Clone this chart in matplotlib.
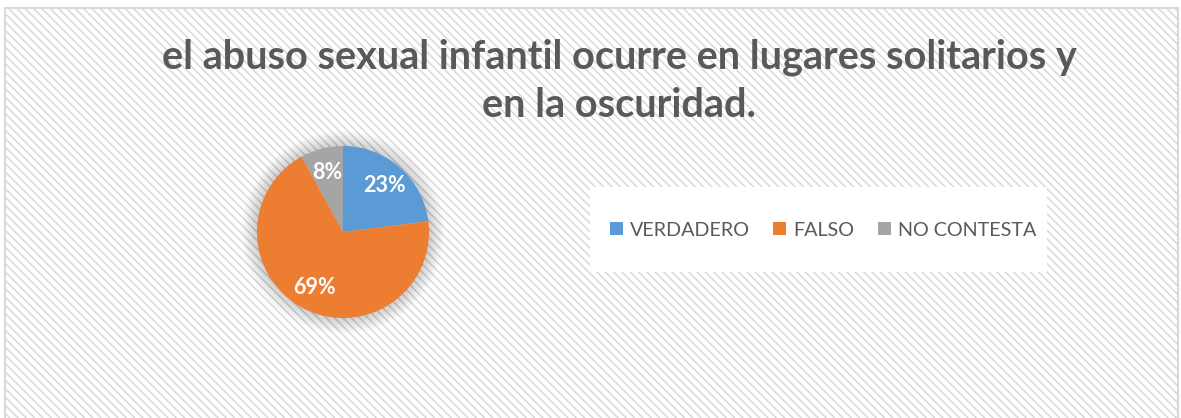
import matplotlib.pyplot as plt
from matplotlib.patches import Rectangle, Circle

categories = ['VERDADERO', 'FALSO', 'NO CONTESTA']
values = [23, 69, 8]
colors = ['#5b9bd5', '#ed7d31', '#a5a5a5']
title = 'el abuso sexual infantil ocurre en lugares solitarios y\nen la oscuridad.'

W, H = 1181, 418
plt.rcParams['font.family'] = ['Lato', 'DejaVu Sans']
plt.rcParams['hatch.linewidth'] = 1.1
plt.rcParams['hatch.color'] = '#f4f4f4'

fig = plt.figure(figsize=(W / 100, H / 100), dpi=100)
fig.patch.set_facecolor('white')

### Hatched chart area with a light border.
bg = Rectangle((5 / W, -0.05), 1173 / W, 1.05 - 8 / H, transform=fig.transFigure,
               facecolor='white', edgecolor='#d9d9d9', linewidth=1.5, hatch='\\\\\\\\', zorder=-2)
fig.patches.append(bg)

fig.text(619 / W, 1 - 81 / H, title, ha='center', va='center', fontsize=28.5,
         fontweight='bold', color='#595959', linespacing=1.38)

### Pie with a soft shadow.
cx, cy, r = 343, 232, 86
ax = fig.add_axes([(cx - r) / W, 1 - (cy + r) / H, 2 * r / W, 2 * r / H])
for k in range(16):
    ax.add_patch(Circle((0, 0.0), 1.0 + 0.012 * k, facecolor='#000000', alpha=0.012,
                        edgecolor='none', zorder=0, clip_on=False))
wedges, texts, autotexts = ax.pie(values, colors=colors, startangle=90, counterclock=False,
                                  autopct='%d%%', pctdistance=0.72, radius=1.0,
                                  wedgeprops=dict(linewidth=0),
                                  textprops=dict(color='white', fontsize=15.5, fontweight='bold'))
ax.set_xlim(-1, 1)
ax.set_ylim(-1, 1)
ax.set_aspect('equal')
ax.axis('off')

### Legend on a white box.
box = Rectangle((590 / W, 1 - 272 / H), 457 / W, 85 / H, transform=fig.transFigure,
                facecolor='white', edgecolor='none', zorder=-1)
fig.patches.append(box)
leg = fig.legend(wedges, categories, loc='center', bbox_to_anchor=(823 / W, 1 - 230 / H),
                 ncol=3, frameon=False, fontsize=14.2, handlelength=0.65, handleheight=0.65,
                 handletextpad=0.35, columnspacing=1.2, labelcolor='#595959')

plt.savefig('out.png', dpi=100)
